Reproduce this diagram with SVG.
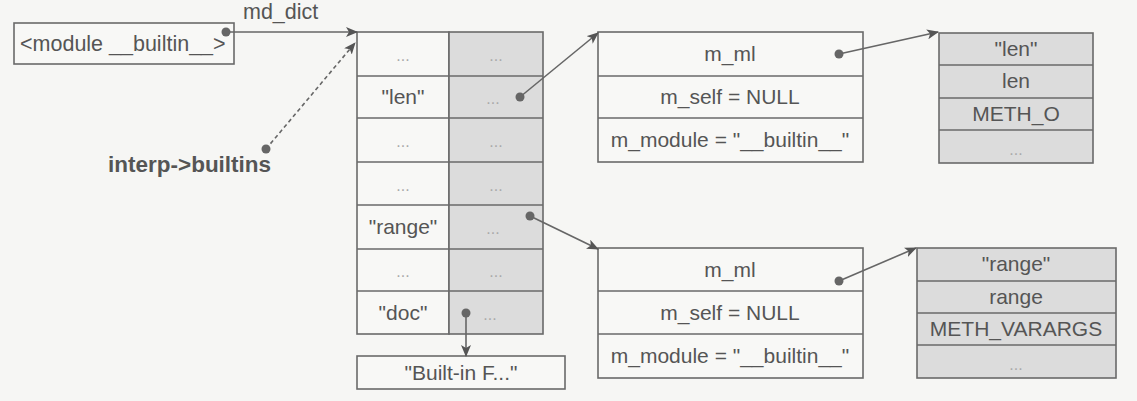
<svg xmlns="http://www.w3.org/2000/svg" width="1137" height="401" viewBox="0 0 1137 401">
<style>
text{font-family:"Liberation Sans",Arial,sans-serif;fill:#555;font-size:21px}
.c{text-anchor:middle}
.d{fill:#aaa;font-size:16px}
.box{fill:#f8f8f6;stroke:#6a6a6a;stroke-width:1.6}
.g{fill:#dcdcdc;stroke:#6a6a6a;stroke-width:1.6}
.ln{stroke:#6a6a6a;stroke-width:1.6}
.con{stroke:#666;stroke-width:1.6;fill:none;marker-end:url(#ah)}
.dot{fill:#666}
</style>
<defs>
<marker id="ah" viewBox="0 0 12 10" refX="11" refY="5" markerWidth="12" markerHeight="10" markerUnits="userSpaceOnUse" orient="auto">
<path d="M0,0 L12,5 L0,10 L3,5 z" fill="#555"/>
</marker>
</defs>
<rect width="1137" height="401" fill="#f6f6f4"/>

<g id="module">
<rect class="box" x="14" y="23" width="220" height="41"/>
<text x="20" y="51" style="font-size:21.5px">&lt;module __builtin__&gt;</text>
</g>

<g id="interp">
<text x="108" y="172" style="font-weight:bold;font-size:22.5px">interp-&gt;builtins</text>
</g>

<g id="dict">
<rect class="box" x="357" y="32" width="92" height="302"/>
<rect class="g" x="449" y="32" width="94" height="302"/>
<line class="ln" x1="357" y1="76" x2="543" y2="76"/>
<line class="ln" x1="357" y1="118" x2="543" y2="118"/>
<line class="ln" x1="357" y1="162" x2="543" y2="162"/>
<line class="ln" x1="357" y1="205" x2="543" y2="205"/>
<line class="ln" x1="357" y1="249" x2="543" y2="249"/>
<line class="ln" x1="357" y1="291" x2="543" y2="291"/>
<text class="c d" x="403" y="61">...</text><text class="c d" x="496" y="61">...</text>
<text class="c" x="403" y="104">"len"</text><text class="c d" x="493" y="104">...</text>
<text class="c d" x="403" y="147">...</text><text class="c d" x="496" y="147">...</text>
<text class="c d" x="403" y="191">...</text><text class="c d" x="496" y="191">...</text>
<text class="c" x="403" y="234">"range"</text><text class="c d" x="493" y="234">...</text>
<text class="c d" x="403" y="277">...</text><text class="c d" x="496" y="277">...</text>
<text class="c" x="403" y="320">"doc"</text><text class="c d" x="490" y="320">...</text>
</g>

<g id="docstr">
<rect class="box" x="357" y="356" width="208" height="33"/>
<text class="c" x="461" y="380">"Built-in F..."</text>
</g>

<g id="cfunc1">
<rect class="box" x="598" y="32" width="265" height="130"/>
<line class="ln" x1="598" y1="76" x2="863" y2="76"/>
<line class="ln" x1="598" y1="118" x2="863" y2="118"/>
<text class="c" x="730" y="61">m_ml</text>
<text class="c" x="730" y="104">m_self = NULL</text>
<text class="c" x="730" y="147">m_module = "__builtin__"</text>
</g>

<g id="cfunc2">
<rect class="box" x="598" y="248" width="265" height="130"/>
<line class="ln" x1="598" y1="291" x2="863" y2="291"/>
<line class="ln" x1="598" y1="334" x2="863" y2="334"/>
<text class="c" x="730" y="277">m_ml</text>
<text class="c" x="730" y="320">m_self = NULL</text>
<text class="c" x="730" y="363">m_module = "__builtin__"</text>
</g>

<g id="lendef">
<rect class="g" x="939" y="33" width="154" height="130"/>
<line class="ln" x1="939" y1="65" x2="1093" y2="65"/>
<line class="ln" x1="939" y1="98" x2="1093" y2="98"/>
<line class="ln" x1="939" y1="130" x2="1093" y2="130"/>
<text class="c" x="1016" y="56">"len"</text>
<text class="c" x="1016" y="88">len</text>
<text class="c" x="1016" y="121">METH_O</text>
<text class="c d" x="1016" y="155">...</text>
</g>

<g id="rangedef">
<rect class="g" x="917" y="248" width="199" height="130"/>
<line class="ln" x1="917" y1="281" x2="1116" y2="281"/>
<line class="ln" x1="917" y1="313" x2="1116" y2="313"/>
<line class="ln" x1="917" y1="345" x2="1116" y2="345"/>
<text class="c" x="1016" y="271">"range"</text>
<text class="c" x="1016" y="304">range</text>
<text class="c" x="1016" y="336">METH_VARARGS</text>
<text class="c d" x="1016" y="370">...</text>
</g>

<g id="connectors">
<line class="con" x1="226" y1="32" x2="357" y2="32"/>
<text x="243" y="19" style="font-size:21.5px">md_dict</text>
<line class="con" x1="266" y1="149" x2="355" y2="43" stroke-dasharray="4,3"/>
<line class="con" x1="520" y1="97" x2="598" y2="33"/>
<line class="con" x1="530" y1="216" x2="598" y2="249"/>
<line class="con" x1="466" y1="313" x2="466" y2="356"/>
<line class="con" x1="839" y1="54" x2="938" y2="32"/>
<line class="con" x1="839" y1="281" x2="916" y2="248"/>
<circle class="dot" cx="226" cy="32" r="4.5"/>
<circle class="dot" cx="266" cy="149" r="4.5"/>
<circle class="dot" cx="520" cy="97" r="4.5"/>
<circle class="dot" cx="530" cy="216" r="4.5"/>
<circle class="dot" cx="466" cy="313" r="4.5"/>
<circle class="dot" cx="839" cy="54" r="4.5"/>
<circle class="dot" cx="839" cy="281" r="4.5"/>
</g>
</svg>
